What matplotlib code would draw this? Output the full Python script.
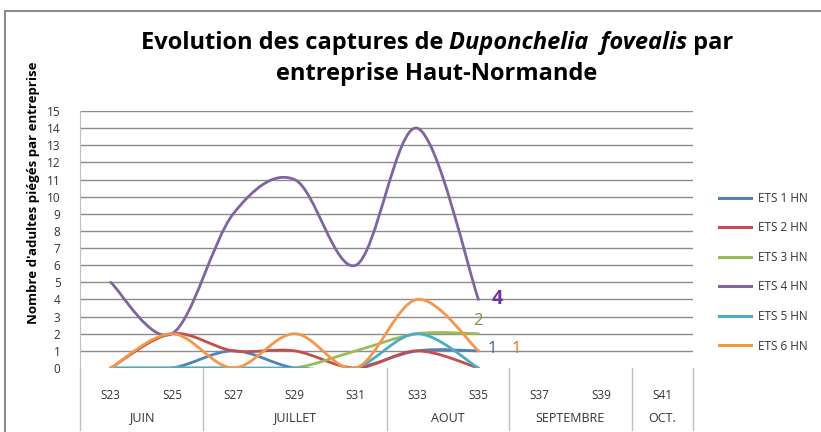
import matplotlib
matplotlib.use("Agg")
import matplotlib.pyplot as plt
from matplotlib.path import Path
from matplotlib.patches import PathPatch
from matplotlib.lines import Line2D
import matplotlib.transforms as mtransforms

plt.rcParams['font.family'] = ['Open Sans', 'DejaVu Sans']

# -------------------------
# Data
# -------------------------
weeks = ['S23', 'S25', 'S27', 'S29', 'S31', 'S33', 'S35', 'S37', 'S39', 'S41']
months = ['JUIN', 'JUILLET', 'AOUT', 'SEPTEMBRE', 'OCT.']
month_spans = [2, 3, 2, 2, 1]   # number of week labels per month

series_names = ['ETS 1 HN', 'ETS 2 HN', 'ETS 3 HN', 'ETS 4 HN', 'ETS 5 HN', 'ETS 6 HN']
ets1 = [0, 0, 1, 0, 0, 1, 1]
ets2 = [0, 2, 1, 1, 0, 1, 0]
ets3 = [0, 0, 0, 0, 1, 2, 2]
ets4 = [5, 2, 9, 11, 6, 14, 4]
ets5 = [0, 0, 0, 0, 0, 2, 0]
ets6 = [0, 2, 0, 2, 0, 4, 1]
series = [ets1, ets2, ets3, ets4, ets5, ets6]
colors = ['#4F81BD', '#C0504D', '#9BBB59', '#8064A2', '#4BACC6', '#F79646']

# labels shown on last point: (series index, offset in px, colour, size, weight)
end_labels = [
    (3, (19, 0), '#7030A0', 14, 'bold'),
    (2, (-1, 13), '#77933C', 12, 'normal'),
    (0, (14, 2), '#376092', 12, 'normal'),
    (5, (38, 2), '#E46C0A', 12, 'normal'),
]

W, H = 821, 432
fig = plt.figure(figsize=(W / 100, H / 100), dpi=100)
ax = fig.add_axes([80 / W, 1 - 368 / H, 613 / W, 257 / H])


def smooth_path(xs, ys):
    # Excel-like smoothed line: cubic Bezier through every point
    pts = list(zip(xs, ys))
    n = len(pts)
    verts = [pts[0]]
    codes = [Path.MOVETO]
    for i in range(n - 1):
        p0 = pts[i - 1] if i > 0 else pts[i]
        p1 = pts[i]
        p2 = pts[i + 1]
        p3 = pts[i + 2] if i + 2 < n else pts[i + 1]
        c1 = (p1[0] + (p2[0] - p0[0]) / 6, p1[1] + (p2[1] - p0[1]) / 6)
        c2 = (p2[0] - (p3[0] - p1[0]) / 6, p2[1] - (p3[1] - p1[1]) / 6)
        verts += [c1, c2, p2]
        codes += [Path.CURVE4] * 3
    return Path(verts, codes)


for vals, col in zip(series, colors):
    xs = list(range(len(vals)))
    patch = PathPatch(smooth_path(xs, vals), facecolor='none', edgecolor=col,
                      lw=2.0, capstyle='round', joinstyle='round', zorder=3)
    ax.add_patch(patch)

for idx, off, col, size, weight in end_labels:
    vals = series[idx]
    ax.annotate(str(vals[-1]), xy=(len(vals) - 1, vals[-1]), xytext=off,
                textcoords='offset pixels', ha='center', va='center',
                color=col, fontsize=size, fontweight=weight, zorder=4)

ax.set_xlim(-0.5, len(weeks) - 0.5)
ax.set_ylim(0, 15)
ax.set_yticks(range(16))
ax.tick_params(axis='y', length=0, pad=14, labelsize=8.5, labelcolor='#333333')
ax.set_xticks(range(len(weeks)))
ax.set_xticklabels(weeks)
ax.tick_params(axis='x', length=0, pad=15, labelsize=8.5, labelcolor='#333333')
ax.grid(axis='y', color='#8C8C8C', lw=1)
ax.get_ygridlines()[0].set_visible(False)
ax.set_axisbelow(True)
for sp in ax.spines.values():
    sp.set_visible(False)
ax.spines['left'].set_visible(True)
ax.spines['left'].set_color('#BFBFBF')

ax.set_ylabel("Nombre d'adultes piégés par entreprise", fontsize=9.5,
              fontweight='bold')
ax.yaxis.set_label_coords(-40 / 613, (368 - 193) / 257)

# month groups under the week labels
trans = mtransforms.blended_transform_factory(ax.transData, ax.transAxes)
start = -0.5
bounds = [start]
for m, span in zip(months, month_spans):
    ax.text(start + span / 2, -50 / 257, m, transform=trans, ha='center',
            va='center', fontsize=9, color='#333333')
    start += span
    bounds.append(start)
for b in bounds:
    ax.plot([b, b], [0, -62 / 257], transform=trans, color='#BFBFBF', lw=1,
            clip_on=False)

# legend
handles = [Line2D([], [], color=c, lw=2.2) for c in colors]
fig.legend(handles, series_names, loc='upper left',
           bbox_to_anchor=(713 / W, 1 - 186 / H), frameon=False, fontsize=8.5,
           handlelength=2.7, handletextpad=0.65, labelspacing=1.4, borderpad=0,
           labelcolor='#333333')

# chart border
fig.add_artist(Line2D([5 / W, 1], [1 - 11 / H, 1 - 11 / H], color='#8C8C8C', lw=1.5))
fig.add_artist(Line2D([5 / W, 5 / W], [0, 1 - 11 / H], color='#8C8C8C', lw=1.5))

# title with italic species name
renderer = fig.canvas.get_renderer()
title_lines = [
    (43, [("Evolution des captures de ", 'normal'), ("Duponchelia  fovealis", 'italic'), (" par", 'normal')]),
    (74, [("entreprise Haut-Normande", 'normal')]),
]
for ypix, pieces in title_lines:
    texts = [fig.text(0, 1 - ypix / H, s, fontsize=17, fontweight='bold',
                      style=st, va='center', ha='left') for s, st in pieces]
    widths = [t.get_window_extent(renderer).width for t in texts]
    x = 437 - sum(widths) / 2
    for t, w in zip(texts, widths):
        t.set_x(x / W)
        x += w

fig.savefig('out.png', dpi=100)
